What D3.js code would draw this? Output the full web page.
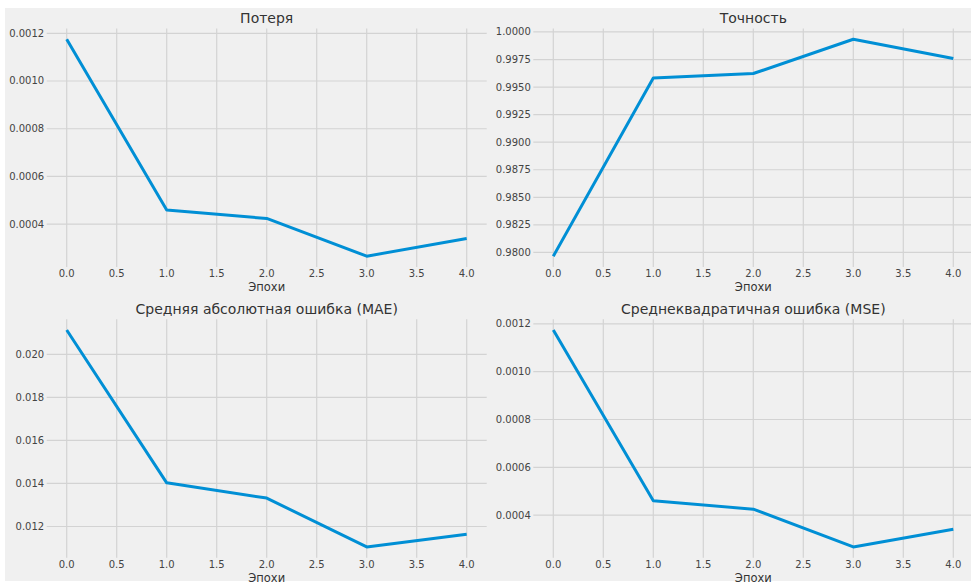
<!DOCTYPE html>
<html>
<head>
<meta charset="utf-8">
<script src="https://cdn.jsdelivr.net/npm/d3@7"></script>
<style>
  body { margin: 0; background: #ffffff; }
  svg { display: block; font-family: "DejaVu Sans", sans-serif; }
  .grid line { stroke: #d3d3d3; stroke-width: 1.2; }
  .tick-label { fill: #444; font-size: 10px; }
  .title { fill: #333; font-size: 14px; }
  .xlabel { fill: #333; font-size: 11.5px; }
</style>
</head>
<body>
<div id="chart"></div>
<script>
// data
var epochs = [0, 1, 2, 3, 4];
var lossValues = [0.001175, 0.000459, 0.000424, 0.000266, 0.000340];
var accuracyValues = [0.97966, 0.99583, 0.99623, 0.99934, 0.99759];
var maeValues = [0.02113, 0.01403, 0.01332, 0.01105, 0.01164];
var mseValues = [0.001174, 0.000460, 0.000425, 0.000267, 0.000341];

var titles = ["Потеря", "Точность", "Средняя абсолютная ошибка (MAE)", "Среднеквадратичная ошибка (MSE)"];
var xLabel = "Эпохи";

var xTicks = [0, 0.5, 1, 1.5, 2, 2.5, 3, 3.5, 4];
var lossTicks = [0.0004, 0.0006, 0.0008, 0.0010, 0.0012];
var accuracyTicks = [0.9800, 0.9825, 0.9850, 0.9875, 0.9900, 0.9925, 0.9950, 0.9975, 1.0000];
var maeTicks = [0.012, 0.014, 0.016, 0.018, 0.020];
var mseTicks = [0.0004, 0.0006, 0.0008, 0.0010, 0.0012];

var width = 971, height = 584;

var svg = d3.select('#chart').append('svg')
  .attr('width', width)
  .attr('height', height);

// figure background (screenshot has a thin white border top/left/bottom)
svg.append('rect')
  .attr('x', 5).attr('y', 8)
  .attr('width', width - 5).attr('height', 573)
  .attr('fill', '#f0f0f0');

var colLeft = [46.7, 533.3];
var rowTop = [28.4, 319.2];
var axW = 440, axH = 238.6;

var panels = [
  {values: lossValues, ticks: lossTicks, fmt: d3.format('.4f'), col: 0, row: 0},
  {values: accuracyValues, ticks: accuracyTicks, fmt: d3.format('.4f'), col: 1, row: 0},
  {values: maeValues, ticks: maeTicks, fmt: d3.format('.3f'), col: 0, row: 1},
  {values: mseValues, ticks: mseTicks, fmt: d3.format('.4f'), col: 1, row: 1}
];

panels.forEach(function(p, i){
  var left = colLeft[p.col], top = rowTop[p.row];
  var g = svg.append('g').attr('transform', 'translate(' + left + ',' + top + ')');

  // matplotlib style 5% margins
  var ext = d3.extent(p.values);
  var pad = (ext[1] - ext[0]) * 0.05;
  var x = d3.scaleLinear().domain([-0.2, 4.2]).range([0, axW]);
  var y = d3.scaleLinear().domain([ext[0] - pad, ext[1] + pad]).range([axH, 0]);

  var grid = g.append('g').attr('class', 'grid');
  grid.selectAll('.v').data(xTicks).enter().append('line')
    .attr('x1', function(d){ return x(d); })
    .attr('x2', function(d){ return x(d); })
    .attr('y1', 0).attr('y2', axH);
  grid.selectAll('.h').data(p.ticks).enter().append('line')
    .attr('x1', 0).attr('x2', axW)
    .attr('y1', function(d){ return y(d); })
    .attr('y2', function(d){ return y(d); });

  g.selectAll('.xt').data(xTicks).enter().append('text')
    .attr('class', 'tick-label')
    .attr('x', function(d){ return x(d); })
    .attr('y', axH + 10.5)
    .attr('text-anchor', 'middle')
    .text(function(d){ return d3.format('.1f')(d); });

  g.selectAll('.yt').data(p.ticks).enter().append('text')
    .attr('class', 'tick-label')
    .attr('x', -2.5)
    .attr('y', function(d){ return y(d); })
    .attr('dy', '0.35em')
    .attr('text-anchor', 'end')
    .text(function(d){ return p.fmt(d); });

  var line = d3.line()
    .x(function(d, j){ return x(epochs[j]); })
    .y(function(d){ return y(d); });

  g.append('path')
    .datum(p.values)
    .attr('d', line)
    .attr('fill', 'none')
    .attr('stroke', '#008fd5')
    .attr('stroke-width', 3)
    .attr('stroke-linejoin', 'round');

  g.append('text')
    .attr('class', 'title')
    .attr('x', axW / 2)
    .attr('y', -5)
    .attr('text-anchor', 'middle')
    .text(titles[i]);

  g.append('text')
    .attr('class', 'xlabel')
    .attr('x', axW / 2)
    .attr('y', axH + 24)
    .attr('text-anchor', 'middle')
    .text(xLabel);
});
</script>
</body>
</html>
